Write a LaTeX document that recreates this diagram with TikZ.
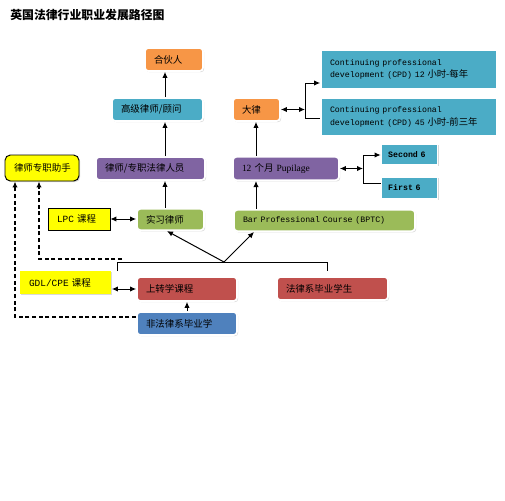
\documentclass[tikz,border=0pt]{standalone}
\usepackage{fontspec}
\setmainfont{Noto Sans CJK SC}
\setmonofont{Liberation Mono}
\newfontfamily\latinserif{Liberation Serif}
\usepackage{xcolor}
\usetikzlibrary{arrows.meta, calc, positioning, shadows}

\definecolor{boxorange}{HTML}{F79646}
\definecolor{boxcyan}{HTML}{4BACC6}
\definecolor{boxpurple}{HTML}{8064A2}
\definecolor{boxgreen}{HTML}{9BBB59}
\definecolor{boxred}{HTML}{C0504D}
\definecolor{boxblue}{HTML}{4F81BD}
\definecolor{boxyellow}{HTML}{FFFF00}

\tikzset{
  pathbox/.style={draw=white, line width=1.3pt, rounded corners=2.5pt,
    inner xsep=6.75pt, inner ysep=0pt, align=left,
    font=\fontsize{7.1}{8}\selectfont,
    drop shadow={shadow xshift=0.9pt, shadow yshift=-0.9pt, opacity=0.3}},
  cpdbox/.style={pathbox, rounded corners=0pt, fill=boxcyan},
  notebox/.style={pathbox, rounded corners=0pt, fill=boxyellow},
  conn/.style={line width=0.75pt},
  dashconn/.style={line width=0.9pt, dash pattern=on 3pt off 2pt}
}

\begin{document}
\begin{tikzpicture}[x=0.75pt, y=-0.75pt, >={Latex[length=4.5pt,width=4pt]}]
\useasboundingbox (0,0) rectangle (505,500);

% Title
\node[anchor=west, inner sep=0pt, font=\fontsize{8.9}{10}\selectfont\bfseries] (title) at (10,15) {英国法律行业职业发展路径图};

% Solicitor route
\node[pathbox, fill=boxorange, text width=30pt, minimum height=17.25pt] (hhr) at (174,59.5) {合伙人};
\node[pathbox, fill=boxcyan, text width=54.75pt, minimum height=17.25pt] (gjls) at (157.5,109.5) {高级律师/顾问};
\node[pathbox, fill=boxpurple, text width=68.25pt, minimum height=17.25pt] (lsry) at (150.5,168.5) {律师/专职法律人员};
\node[pathbox, fill=boxgreen, text width=36.75pt, minimum height=16pt] (sxls) at (170.5,219.5) {实习律师};
\node[notebox, draw=black, line width=0.6pt, text width=33pt, minimum height=16.5pt] (lpc) at (79,219) {{\ttfamily LPC} 课程};
\node[pathbox, fill=boxyellow, draw=black, line width=0.7pt, rounded corners=4pt, text width=42pt, minimum height=19.5pt] (zz) at (42,168) {律师专职助手};

% Barrister route
\node[pathbox, fill=boxorange, text width=21.75pt, minimum height=17.25pt] (dl) at (256.5,109.5) {大律};
\node[cpdbox, text width=118.5pt, minimum height=29.25pt,
  font=\fontsize{6.2}{9.4}\selectfont\ttfamily] (cpdA) at (409,69.5)
  {Continuing professional\\development (CPD) 12 {\rmfamily\fontsize{7}{9.4}\selectfont 小时-每年}};
\node[cpdbox, text width=118.5pt, minimum height=28.5pt,
  font=\fontsize{6.2}{9.4}\selectfont\ttfamily] (cpdB) at (409,117)
  {Continuing professional\\development (CPD) 45 {\rmfamily\fontsize{7}{9.4}\selectfont 小时-前三年}};
\node[pathbox, fill=boxpurple, text width=66pt, minimum height=17.5pt] (pupil) at (286,168.5) {{\latinserif 12} 个月 {\latinserif Pupilage}};
\node[cpdbox, text width=32pt, minimum height=15.75pt, inner xsep=5pt, font=\fontsize{6.2}{8}\selectfont\ttfamily\bfseries] (secnd) at (409.5,154.5) {Second 6};
\node[cpdbox, text width=32pt, minimum height=16.5pt, inner xsep=5pt, font=\fontsize{6.2}{8}\selectfont\ttfamily\bfseries] (first) at (409.5,188) {First 6};
\node[pathbox, fill=boxgreen, text width=122.25pt, minimum height=16pt, font=\fontsize{6.2}{8}\selectfont\ttfamily] (bptc) at (324.5,220.5) {Bar Professional Course (BPTC)};

% Entry
\node[notebox, draw=none, text width=54.75pt, minimum height=17.25pt] (gdl) at (65.5,282.5) {{\ttfamily GDL/CPE} 课程};
\node[pathbox, fill=boxred, text width=61.5pt, minimum height=18pt] (szx) at (187,289) {上转学课程};
\node[pathbox, fill=boxred, text width=69.75pt, minimum height=17.25pt] (flx) at (332.5,288.5) {法律系毕业学生};
\node[pathbox, fill=boxblue, text width=61.5pt, minimum height=17.25pt] (ffl) at (187,323.5) {非法律系毕业学};

% Helper points
\coordinate (colL) at (165,0);
\coordinate (colR) at (256,0);
\coordinate (tipL) at (167,0);
\coordinate (tipR) at (254,0);
\coordinate (forkA) at (305,83);
\coordinate (forkB) at (305,118);
\coordinate (forkS) at (363,155);
\coordinate (forkF) at (363,183);
\coordinate (mergeM) at (224,262);
\coordinate (stubL) at (117,271);
\coordinate (stubR) at (327,271);
\coordinate (dashL) at (15,317);
\coordinate (dashM) at (39,259);
\coordinate (dashE) at (122,259);

% Upward steps
\draw[conn,->] (gjls.north -| colL) -- (hhr.south -| colL);
\draw[conn,->] (lsry.north -| colL) -- (gjls.south -| colL);
\draw[conn,->] (sxls.north -| colL) -- (lsry.south -| colL);
\draw[conn,->] (bptc.north -| colR) -- (pupil.south -| colR);
\draw[conn,->] (pupil.north -| colR) -- (dl.south -| colR);
\draw[conn,->] (ffl.north) -- (szx.south);

% Side links
\draw[conn,<->] (dl.east) -- (dl.east -| forkA);
\draw[conn,->] (forkB) -- (forkA) -- (forkA -| cpdA.west);
\draw[conn] (forkB) -- (forkB -| cpdB.west);
\draw[conn,<->] (pupil.east) -- (pupil.east -| forkS);
\draw[conn,->] (forkF) -- (forkS) -- (forkS -| secnd.west);
\draw[conn] (forkF) -- (forkF -| first.west);
\draw[conn,<->] (lpc.east) -- (lpc.east -| sxls.west);
\draw[conn,<->] (szx.west -| gdl.east) -- (szx.west);

% Merge of graduates
\draw[conn] (stubL) -- (stubL |- mergeM) -- (stubR |- mergeM) -- (stubR);
\draw[conn,->] (mergeM) -- (sxls.south -| tipL);
\draw[conn,->] (mergeM) -- (bptc.south -| tipR);

% Paralegal links
\draw[dashconn,->] (ffl.west |- dashL) -- (dashL) -- (dashL |- zz.south);
\draw[dashconn,->] (dashE) -- (dashM) -- (dashM |- zz.south);
\end{tikzpicture}
\end{document}
